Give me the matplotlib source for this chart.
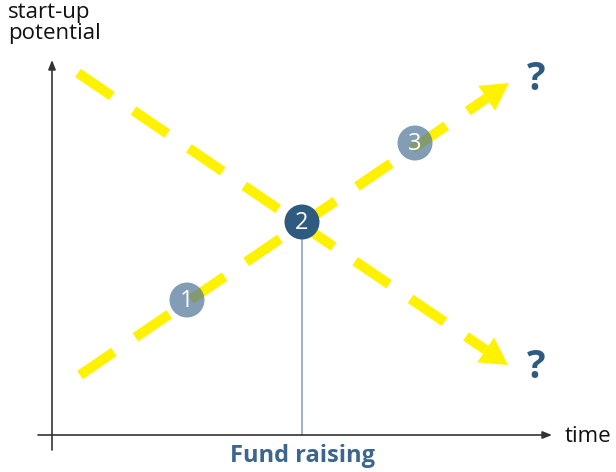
"""Start-up potential vs time sketch: two dashed trend arrows crossing at fund raising."""

import numpy as np
import matplotlib
matplotlib.use("Agg")
import matplotlib.pyplot as plt
from matplotlib.patches import Circle, Polygon

plt.rcParams["font.family"] = ["Open Sans", "DejaVu Sans"]

# canvas coordinates (pixels, y pointing down)
rising_x = [80, 509]
rising_y = [375, 83]
falling_x = [78, 508]
falling_y = [73, 365]

milestone_x = [187, 302, 415]
milestone_y = [300, 222, 143]
milestone_labels = ["1", "2", "3"]

question_x = [536, 536]
question_y = [80, 368]

origin = (52, 435)
x_axis_end = 552
y_axis_end = 60

YELLOW = "#FFF200"
DARK_BLUE = "#2F5B80"
LIGHT_BLUE = "#54789A"
TEXT_BLUE = "#3C6690"
AXIS = "#333333"


def dashed_arrow(ax, xs, ys, head_len=27, head_w=30):
    p0 = np.array([xs[0], ys[0]], dtype=float)
    tip = np.array([xs[1], ys[1]], dtype=float)
    d = (tip - p0) / np.linalg.norm(tip - p0)
    n = np.array([-d[1], d[0]])
    base = tip - d * head_len
    ax.plot([p0[0], base[0]], [p0[1], base[1]], color=YELLOW, lw=7.2,
            dashes=(4.1, 2.6), dash_capstyle="butt", zorder=2)
    tri = [tip, base + n * head_w / 2, base - n * head_w / 2]
    ax.add_patch(Polygon(tri, closed=True, color=YELLOW, lw=0, zorder=2))


fig = plt.figure(figsize=(6.16, 4.72), dpi=100)
ax = fig.add_axes([0, 0, 1, 1])
ax.set_xlim(0, 616)
ax.set_ylim(472, 0)
ax.axis("off")

# axes with arrowheads
arrow = dict(arrowstyle="-|>,head_length=0.55,head_width=0.22", color=AXIS,
             lw=1.2, shrinkA=0, shrinkB=0)
ax.annotate("", xy=(x_axis_end, origin[1]), xytext=(38, origin[1]), arrowprops=arrow)
ax.annotate("", xy=(origin[0], y_axis_end), xytext=(origin[0], 450), arrowprops=arrow)

dashed_arrow(ax, falling_x, falling_y)
dashed_arrow(ax, rising_x, rising_y)

# drop line from fund raising milestone
ax.plot([milestone_x[1], milestone_x[1]], [milestone_y[1], origin[1]],
        color="#8EA5C0", lw=1.2, zorder=1)

for i, (mx, my, lab) in enumerate(zip(milestone_x, milestone_y, milestone_labels)):
    if i == 1:
        ax.add_patch(Circle((mx, my), 17.5, color=DARK_BLUE, lw=0, zorder=3))
    else:
        ax.add_patch(Circle((mx, my), 17.5, color=LIGHT_BLUE, alpha=0.72, lw=0, zorder=3))
    ax.text(mx, my + 1, lab, color="white", fontsize=17, ha="center", va="center", zorder=4)

for qx, qy in zip(question_x, question_y):
    ax.text(qx, qy, "?", color=DARK_BLUE, fontsize=28, fontweight="bold",
            ha="center", va="center")

ax.text(8, 2, "start-up\npotential", fontsize=16, color="#111111",
        ha="left", va="top", linespacing=1.0)
ax.text(565, 437, "time", fontsize=16, color="#111111", ha="left", va="center")
ax.text(302, 456, "Fund raising", fontsize=17, fontweight="bold", color=TEXT_BLUE,
        ha="center", va="center")

fig.savefig("out.png", dpi=100)
